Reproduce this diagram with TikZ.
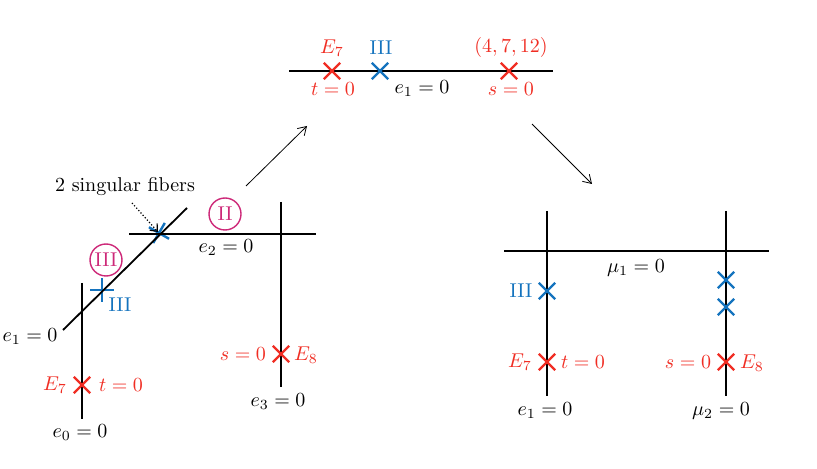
\documentclass[tikz,border=0pt]{standalone}
\usetikzlibrary{shapes.misc,arrows.meta}
\definecolor{fred}{RGB}{240,45,35}
\definecolor{fblue}{RGB}{20,115,190}
\definecolor{fmag}{RGB}{205,40,120}
\begin{document}
\begin{tikzpicture}[x=0.5pt,y=-0.5pt,
  curve/.style={line width=0.9pt},
  redx/.style={cross out,draw=fred,line width=1.2pt,minimum size=7pt,inner sep=0pt},
  bluex/.style={cross out,draw=fblue,line width=1.2pt,minimum size=7pt,inner sep=0pt},
  lab/.style={inner sep=0pt},
  rlab/.style={inner sep=0pt,text=fred},
  blab/.style={inner sep=0pt,text=fblue},
  circlab/.style={circle,draw=fmag,text=fmag,line width=0.7pt,minimum size=16pt,inner sep=0pt},
  thinarrow/.style={line width=0.4pt,-{Straight Barb[length=4pt,width=5pt]}}]
\useasboundingbox (0,0) rectangle (817,469);

% ---------- top curve ----------
\coordinate (tl) at (289,71);
\coordinate (tr) at (553,71);
\draw[curve] (tl) -- (tr);
\node[redx] (tx1) at (332,71) {};
\node[bluex] (tx2) at (380,71) {};
\node[redx] (tx3) at (509,71) {};
\node[rlab] (tE7) at (332,48) {$E_7$};
\node[blab] (tIII) at (381,48) {III};
\node[rlab] (t47) at (511,48) {$(4,7,12)$};
\node[rlab] (tt0) at (333,89) {$t=0$};
\node[lab] (te1) at (422,89) {$e_1=0$};
\node[rlab] (ts0) at (511,89) {$s=0$};

% ---------- arrows ----------
\coordinate (a1s) at (246,186);
\coordinate (a1e) at (307,126);
\draw[thinarrow] (a1s) -- (a1e);
\coordinate (a2s) at (532,124);
\coordinate (a2e) at (592,184);
\draw[thinarrow] (a2s) -- (a2e);

% ---------- left diagram ----------
\node[bluex,rotate=15] (star) at (159,233) {};
\node[bluex,rotate=45] (plus) at (102,290) {};
\coordinate (d1) at (63,330);
\coordinate (d2) at (187,208);
\draw[curve] (d1) -- (d2);
\coordinate (h1) at (129,234);
\coordinate (h2) at (316,234);
\draw[curve] (h1) -- (h2);
\coordinate (v3a) at (281,202);
\coordinate (v3b) at (281,387);
\draw[curve] (v3a) -- (v3b);
\coordinate (v0a) at (82,283);
\coordinate (v0b) at (82,419);
\draw[curve] (v0a) -- (v0b);

\node[blab] (lIII) at (120,305) {III};
\node[circlab] (cIII) at (106,260) {III};
\node[circlab] (cII) at (225,214) {II};
\node[lab] (sing) at (125,187) {2 singular fibers};
\coordinate (ds) at (132,203);
\coordinate (de) at (158,232);
\draw[line width=0.6pt,densely dotted,-{Straight Barb[length=3pt,width=5pt]}] (ds) -- (de);

\node[lab] (le1) at (30,337) {$e_1=0$};
\node[lab] (le2) at (226,248) {$e_2=0$};
\node[lab] (le3) at (278,402) {$e_3=0$};
\node[lab] (le0) at (80,433) {$e_0=0$};
\node[redx] (lx0) at (82,385) {};
\node[rlab] (lE7) at (55,385) {$E_7$};
\node[rlab] (lt0) at (121,385) {$t=0$};
\node[redx] (lx3) at (281,354) {};
\node[rlab] (ls0) at (243,354) {$s=0$};
\node[rlab] (lE8) at (306,355) {$E_8$};

% ---------- right diagram ----------
\coordinate (m1a) at (504,251);
\coordinate (m1b) at (769,251);
\draw[curve] (m1a) -- (m1b);
\coordinate (r1a) at (547,211);
\coordinate (r1b) at (547,396);
\draw[curve] (r1a) -- (r1b);
\coordinate (r2a) at (726,211);
\coordinate (r2b) at (726,396);
\draw[curve] (r2a) -- (r2b);
\node[lab] (rm1) at (636,268) {$\mu_1=0$};
\node[bluex] (rb1) at (547,291) {};
\node[blab] (rIII) at (521,291) {III};
\node[bluex] (rb2) at (726,280) {};
\node[bluex] (rb3) at (726,307) {};
\node[redx] (rx1) at (547,362) {};
\node[rlab] (rE7) at (520,362) {$E_7$};
\node[rlab] (rt0) at (583,362) {$t=0$};
\node[redx] (rx2) at (726,362) {};
\node[rlab] (rs0) at (688,362) {$s=0$};
\node[rlab] (rE8) at (752,363) {$E_8$};
\node[lab] (re1) at (545,411) {$e_1=0$};
\node[lab] (rm2) at (721,411) {$\mu_2=0$};
\end{tikzpicture}
\end{document}
